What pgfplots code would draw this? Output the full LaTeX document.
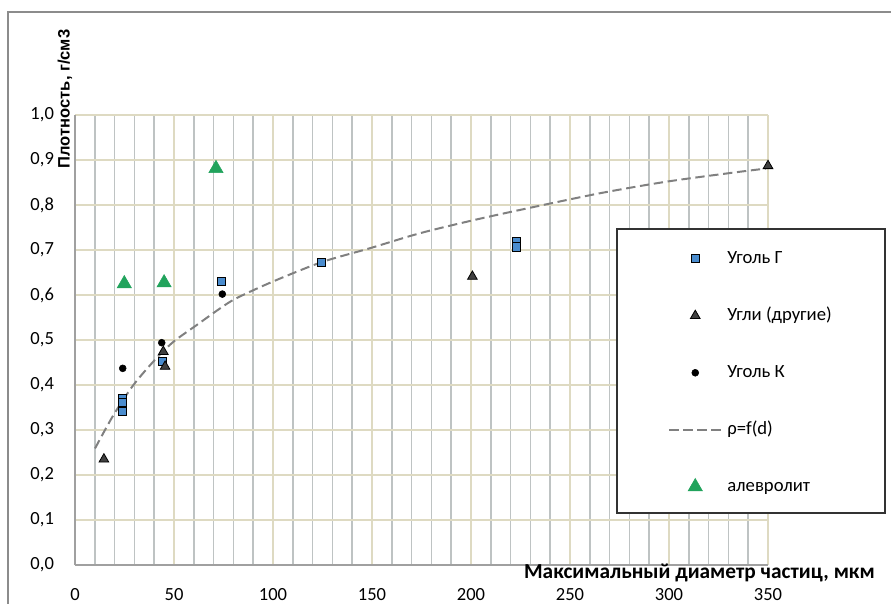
\documentclass[border=0pt]{standalone}
\usepackage{fontspec}
\setmainfont{Carlito}
\newfontfamily\lsans{Liberation Sans}
\usepackage{pgfplots}
\pgfplotsset{compat=1.18}
\definecolor{gridgray}{RGB}{190,195,195}
\definecolor{gridbeige}{RGB}{222,218,194}
\definecolor{axisgray}{RGB}{160,160,160}
\definecolor{sqblue}{RGB}{74,140,206}
\definecolor{trigray}{RGB}{64,64,64}
\definecolor{alegreen}{RGB}{33,163,92}
\definecolor{curvegray}{RGB}{128,128,128}
\definecolor{framegray}{RGB}{140,140,140}
\definecolor{legframe}{RGB}{50,50,50}
\pgfplotsset{
  markleg/.style={legend image code/.code={\draw[##1] plot[only marks] coordinates {(19.5pt,0pt)};\path[draw=none,fill=none] (0pt,0pt)--(39pt,0pt);}},
  lineleg/.style={legend image code/.code={\draw[##1] (0pt,0pt)--(39pt,0pt);}},
}
\begin{document}
\begin{tikzpicture}
\useasboundingbox (0,0) rectangle (668.25pt,452.25pt);
\begin{axis}[
  at={(56.25pt,28.5pt)}, anchor=south west,
  scale only axis, width=519.75pt, height=337.5pt,
  xmin=0, xmax=350, ymin=0, ymax=1,
  clip=false,
  axis x line=bottom, axis y line=left,
  axis line style={-, draw=axisgray, line width=1.1pt},
  xtick={0,50,100,150,200,250,300,350},
  ytick={0,0.1,0.2,0.3,0.4,0.5,0.6,0.7,0.8,0.9,1.0},
  minor x tick num=4,
  xmajorgrids, ymajorgrids, xminorgrids,
  major grid style={draw=gridbeige, line width=1.1pt},
  minor grid style={draw=gridgray, line width=1.1pt},
  tick style={draw=none},
  /pgf/number format/assume math mode=true,
  ticklabel style={font=\fontsize{13.9}{16}\selectfont},
  xticklabel style={inner sep=0pt, anchor=north, yshift=-15pt},
  yticklabel style={inner sep=0pt, anchor=east, xshift=-13.5pt,
    /pgf/number format/.cd, fixed, fixed zerofill, precision=1, use comma},
  xlabel={Максимальный диаметр частиц, мкм},
  xlabel style={at={(axis description cs:1.1544,-0.0311)}, anchor=base east,
    inner sep=0pt, font=\bfseries\fontsize{16}{19}\selectfont},
  ylabel={Плотность, г/см3},
  ylabel style={at={(axis description cs:-0.0145,1.0356)}, anchor=center,
    inner sep=0pt, font=\lsans\bfseries\fontsize{12.4}{14}\selectfont},
  legend cell align=left,
  legend style={draw=none, fill=none, at={(axis description cs:0.8557,0.7004)},
    anchor=north west, inner sep=0pt, row sep=29.75pt, column sep=3.75pt,
    font=\fontsize{14}{16}\selectfont,
    nodes={inner sep=0pt, text height=10pt, text depth=3pt}},
]
\draw[draw=legframe, line width=1.1pt, fill=white]
  (axis description cs:0.7821,0.7467) rectangle (axis description cs:1.1688,0.1156);

\addplot[only marks, markleg, mark=square*, mark size=3.1pt,
  mark options={fill=sqblue, draw=black, line width=0.7pt}]
  coordinates {(24,0.370) (24,0.361) (24,0.341) (44,0.452) (74,0.630)
               (124.6,0.673) (223,0.718) (223,0.707)};
\addlegendentry{Уголь Г}

\addplot[only marks, markleg, mark=triangle*, mark size=4.2pt,
  mark options={fill=trigray, draw=black, line width=0.6pt}]
  coordinates {(14.6,0.235) (44.6,0.474) (45.5,0.441) (200.7,0.641) (350,0.887)};
\addlegendentry{Угли (другие)}

\addplot[only marks, markleg, mark=*, mark size=2.6pt,
  mark options={fill=black, draw=black}]
  coordinates {(24.1,0.437) (43.8,0.494) (74.4,0.602)};
\addlegendentry{Уголь К}

\addplot[lineleg, draw=curvegray, line width=1.5pt, dash pattern=on 7pt off 3.5pt, smooth]
  coordinates {(10.1,0.259) (19.4,0.333) (29.5,0.400) (40.4,0.456) (49.7,0.496)
               (61.4,0.533) (73.2,0.570) (81.6,0.593) (100,0.630) (124.6,0.673)
               (149,0.704) (174,0.737) (200,0.765) (224.7,0.789) (265,0.826)
               (299,0.852) (332.5,0.872) (349,0.881)};
\addlegendentry{ρ=f(d)}

\addplot[only marks, markleg, mark=triangle*, mark size=6.2pt,
  mark options={fill=alegreen, draw=alegreen}]
  coordinates {(24.9,0.625) (45,0.627) (71.2,0.881)};
\addlegendentry{алевролит}
\end{axis}
\draw[framegray, line width=1.1pt] (6pt,-5pt) -- (6pt,443.25pt) -- (680pt,443.25pt);
\end{tikzpicture}
\end{document}
